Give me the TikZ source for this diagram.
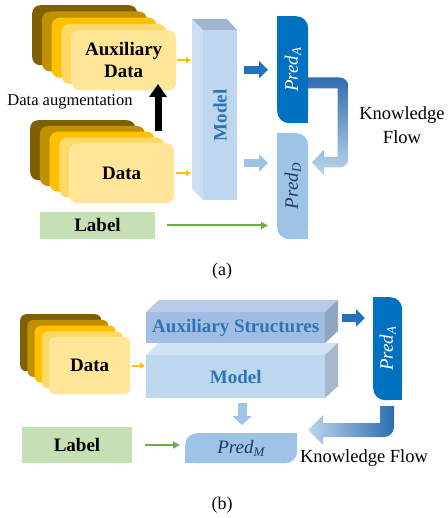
\documentclass[tikz,border=0pt]{standalone}
\usepackage{fontspec}
\setmainfont{Liberation Serif}
\usetikzlibrary{arrows.meta}
\definecolor{cA}{HTML}{7F6000}
\definecolor{cB}{HTML}{BF9000}
\definecolor{cC}{HTML}{FFC000}
\definecolor{cD}{HTML}{FFD966}
\definecolor{cE}{HTML}{FFE699}
\definecolor{lblG}{HTML}{C5E0B4}
\definecolor{arrG}{HTML}{70AD47}
\definecolor{arrO}{HTML}{FFC000}
\definecolor{mFront}{HTML}{BDD7EE}
\definecolor{mSide}{HTML}{CCDFF2}
\definecolor{mTop}{HTML}{9FB5CD}
\definecolor{mText}{HTML}{2E75B6}
\definecolor{pDark}{HTML}{0070C0}
\definecolor{pLight}{HTML}{9DC3E6}
\definecolor{pText}{HTML}{1F3864}
\definecolor{arrDark}{HTML}{2472BE}
\definecolor{kfDark}{HTML}{2E6DB0}
\definecolor{kfLight}{HTML}{BDD7EE}
\definecolor{asFront}{HTML}{A2BDE3}
\definecolor{asTop}{HTML}{B8CBEA}
\definecolor{asSide}{HTML}{8FA5C2}
\definecolor{mbTop}{HTML}{D0E2F4}
\definecolor{mbSide}{HTML}{A5B8CC}
\newcommand{\predtxt}[1]{\textit{Pred}\raisebox{-0.35ex}{\fontsize{13}{13}\selectfont\textit{#1}}}
\begin{document}
\begin{tikzpicture}[x=1pt,y=-1pt,font=\fontsize{19}{22}\selectfont,
  cardA/.style={rounded corners=8pt,minimum width=105pt,minimum height=60pt,inner sep=0pt,anchor=north west},
  cardB/.style={rounded corners=6pt,minimum width=81pt,minimum height=57pt,inner sep=0pt,anchor=north west},
  boldtxt/.style={font=\fontsize{19}{22}\selectfont\bfseries},
  lblbox/.style={fill=lblG,inner sep=0pt,boldtxt},
  predbox/.style={rounded corners=12pt,inner sep=0pt,anchor=north west},
  oarrow/.style={draw=arrO,line width=1.6pt,-{Triangle[width=6pt,length=5pt]}},
  garrow/.style={draw=arrG,line width=2pt,-{Triangle[width=7pt,length=7pt]}},
  fatarrow/.style={line width=8pt,-{Triangle[width=17pt,length=9pt]}}]
\useasboundingbox (0,0) rectangle (447,518);
\fill[white] (0,0) rectangle (447,518);
% ---------------- panel (a) ----------------
\foreach \c [count=\i from 0] in {cA,cB,cC,cD}
  \node[cardA,fill=\c] (auxa\i) at ({32+9.75*\i},{5+6.25*\i}) {};
\node[cardA,fill=cE,boldtxt,align=center] (auxA) at (71,30) {Auxiliary\\Data};
\foreach \c [count=\i from 0] in {cA,cB,cC,cD}
  \node[cardA,fill=\c] (dataa\i) at ({30+9.75*\i},{120+5.75*\i}) {};
\node[cardA,fill=cE,boldtxt] (dataA) at (69,143) {Data};
\node[font=\fontsize{16.5}{18}\selectfont] (augtxt) at (70,102) {Data augmentation};
\coordinate (augS) at (158,131);
\coordinate (augE) at (158,84);
\draw[line width=7pt,draw=black,-{Triangle[width=17pt,length=13pt]}] (augS) -- (augE);
\node[lblbox,minimum width=115pt,minimum height=27pt] (labelA) at (97.5,225.5) {Label};
% model (a)
\fill[mSide] (192,19) -- (203,30) -- (203,200) -- (192,189) -- cycle;
\fill[mTop] (192,19) -- (227,19) -- (237,30) -- (203,30) -- cycle;
\node[fill=mFront,minimum width=34pt,minimum height=170pt,inner sep=0pt,anchor=north west] (modelA) at (203,30) {};
\node[rotate=90,text=mText,boldtxt] (modelAtxt) at (modelA.center) {Model};
\coordinate (mAleft) at (191,0);
\draw[oarrow,shorten <=1pt] (auxA.east) -- (auxA.east -| mAleft);
\draw[oarrow,shorten <=2pt] (dataA.east) -- (dataA.east -| mAleft);
% preds (a)
\node[predbox,fill=pDark,minimum width=31pt,minimum height=107pt] (pAa) at (277,16) {};
\fill[pDark] (pAa.north west) rectangle ++(12,12);
\fill[pDark] (pAa.south east) rectangle ++(-12,-12);
\node[rotate=90,text=white] (pAatxt) at (pAa.center) {\predtxt{A}};
\node[predbox,fill=pLight,minimum width=31pt,minimum height=106pt] (pDa) at (277,133) {};
\fill[pLight] (pDa.north west) rectangle ++(12,12);
\fill[pLight] (pDa.south east) rectangle ++(-12,-12);
\node[rotate=90,text=pText] (pDatxt) at (pDa.center) {\predtxt{D}};
\draw[fatarrow,draw=arrDark,shorten <=7pt,shorten >=9pt] (modelA.east |- pAa.center) -- (pAa.west |- pAa.center);
\coordinate (mD) at (237,163);
\draw[fatarrow,draw=pLight,shorten <=7pt,shorten >=9pt] (mD) -- (mD -| pDa.west);
\draw[garrow,shorten <=12pt,shorten >=9pt] (labelA.east) -- (labelA.east -| pDa.west);
% knowledge flow (a)
\shade[top color=kfDark,bottom color=kfLight]
  (308,77.5) -- (339.5,77.5) .. controls (344.5,77.5) and (348.5,81.5) .. (348.5,86.5)
  -- (348.5,158.5) .. controls (348.5,163.5) and (344.5,167.5) .. (339.5,167.5)
  -- (324,167.5) -- (324,175.5) -- (312,162.5) -- (324,149.5) -- (324,157)
  -- (337.5,157) -- (337.5,88.5) -- (308,88.5) -- cycle;
\node[align=center,font=\fontsize{18.5}{24}\selectfont] (kfA) at (402,125) {Knowledge\\Flow};
\node[font=\fontsize{18}{20}\selectfont] (capA) at (222,271) {(a)};
% ---------------- panel (b) ----------------
\foreach \c [count=\i from 0] in {cA,cB,cC,cD}
  \node[cardB,fill=\c] (datab\i) at ({20+7.25*\i},{314+5.75*\i}) {};
\node[cardB,fill=cE,boldtxt] (dataB) at (49,337) {Data};
% aux structures
\fill[asTop] (146,312) -- (159,300) -- (338,300) -- (325,312) -- cycle;
\fill[asSide] (325,312) -- (338,300) -- (338,331) -- (325,343) -- cycle;
\node[fill=asFront,minimum width=179pt,minimum height=31pt,inner sep=0pt,anchor=north west,text=mText,boldtxt] (auxB) at (146,312) {Auxiliary Structures};
% model (b)
\fill[mbTop] (146,355) -- (159,343) -- (338,343) -- (325,355) -- cycle;
\fill[mbSide] (325,355) -- (338,343) -- (338,386) -- (325,398) -- cycle;
\node[fill=mFront,minimum width=179pt,minimum height=43pt,inner sep=0pt,anchor=north west,text=mText,boldtxt] (modelB) at (146,355) {Model};
\draw[oarrow,shorten <=2pt,shorten >=1pt] (dataB.east) -- (dataB.east -| modelB.west);
% pred A (b)
\node[predbox,fill=pDark,minimum width=29pt,minimum height=103pt] (pAb) at (373,297) {};
\fill[pDark] (pAb.north west) rectangle ++(12,12);
\fill[pDark] (pAb.south east) rectangle ++(-12,-12);
\node[rotate=90,text=white] (pAbtxt) at (pAb.center) {\predtxt{A}};
\coordinate (asR) at (338,318);
\draw[fatarrow,draw=arrDark,shorten <=4pt,shorten >=8pt] (asR) -- (asR -| pAb.west);
% pred M
\node[predbox,fill=pLight,minimum width=112pt,minimum height=30pt] (pM) at (185,433) {};
\fill[pLight] (pM.north east) rectangle ++(-12,12);
\fill[pLight] (pM.south west) rectangle ++(12,-12);
\node[text=pText] (pMtxt) at (pM.center) {\predtxt{M}};
\coordinate (mBs) at (242,398);
\draw[line width=9pt,draw=pLight,-{Triangle[width=19pt,length=9pt]},shorten <=5pt,shorten >=8pt] (mBs) -- (mBs |- pM.north);
% label (b)
\node[lblbox,minimum width=110pt,minimum height=36pt] (labelB) at (77,445) {Label};
\draw[garrow,shorten <=13pt,shorten >=5pt] (labelB.east) -- (labelB.east -| pM.west);
% knowledge flow (b)
\shade[left color=kfLight,right color=kfDark]
  (380,406) -- (394,406) -- (394,427) .. controls (394,432.5) and (389.5,437) .. (384,437)
  -- (323,437) -- (323,445) -- (308,430) -- (323,415) -- (323,423) -- (380,423) -- cycle;
\node[font=\fontsize{18.5}{22}\selectfont] (kfB) at (364,458) {Knowledge Flow};
\node[font=\fontsize{18}{20}\selectfont] (capB) at (222,505) {(b)};
\end{tikzpicture}
\end{document}
